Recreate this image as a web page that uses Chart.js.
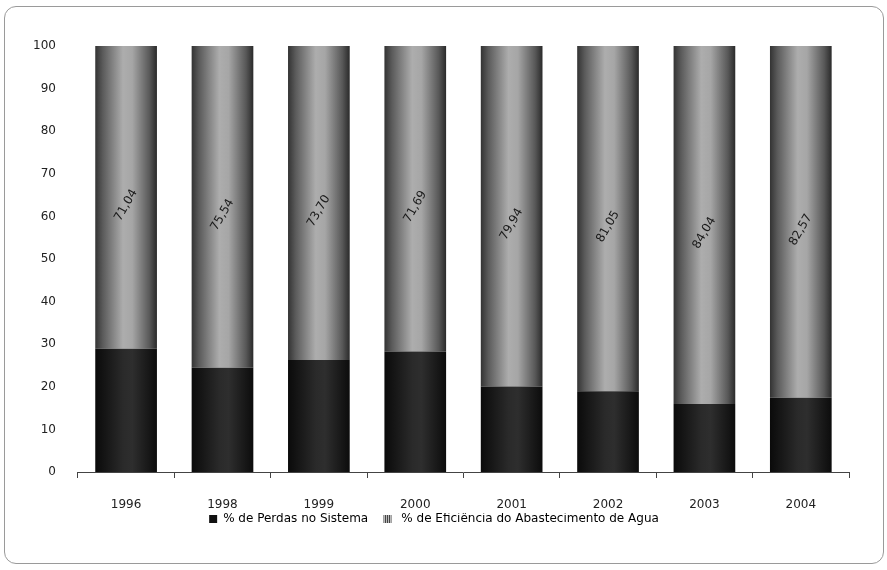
<!DOCTYPE html>
<html><head><meta charset="utf-8">
<script src="https://cdn.jsdelivr.net/npm/chart.js@4/dist/chart.umd.min.js"></script>
<style>
html,body{margin:0;padding:0;background:#fff;}
#box{position:absolute;left:4px;top:6px;width:878px;height:556px;border:1.5px solid #9a9a9a;border-radius:12px;overflow:hidden;}
canvas{display:block;}
</style></head>
<body>
<div id="box"><canvas id="c" width="878" height="556"></canvas></div>
<script>
const years = ['1996','1998','1999','2000','2001','2002','2003','2004'];
const perdas = [28.96, 24.46, 26.30, 28.31, 20.06, 18.95, 15.96, 17.43];
const eficiencia = [71.04, 75.54, 73.70, 71.69, 79.94, 81.05, 84.04, 82.57];
const eficienciaLabels = ['71,04','75,54','73,70','71,69','79,94','81,05','84,04','82,57'];
const yTicks = [0,10,20,30,40,50,60,70,80,90,100];
const BAR_PCT = 0.64;
const FONT = '"DejaVu Sans", "Liberation Sans", Arial, sans-serif';

function barGradient(ctx, dark){
  const chart = ctx.chart;
  const xs = chart.scales.x;
  if (!xs || !chart.chartArea) return dark ? '#1c1c1c' : '#8a8a8a';
  const cx = xs.getPixelForValue(ctx.dataIndex);
  const w = (xs.width / years.length) * BAR_PCT;
  const g = chart.ctx.createLinearGradient(cx - w/2, 0, cx + w/2, 0);
  if (dark){
    g.addColorStop(0, '#0a0a0a');
    g.addColorStop(0.45, '#2a2a2a');
    g.addColorStop(0.6, '#2e2e2e');
    g.addColorStop(1, '#0c0c0c');
  } else {
    g.addColorStop(0, '#333333');
    g.addColorStop(0.12, '#5a5a5a');
    g.addColorStop(0.45, '#adadad');
    g.addColorStop(0.6, '#a6a6a6');
    g.addColorStop(0.88, '#585858');
    g.addColorStop(1, '#2a2a2a');
  }
  return g;
}

const labelPlugin = {
  id: 'rotLabels',
  afterDatasetsDraw(chart){
    const meta = chart.getDatasetMeta(1);
    const c = chart.ctx;
    c.save();
    c.font = '12px ' + FONT;
    c.fillStyle = '#1a1a1a';
    c.textAlign = 'center';
    c.textBaseline = 'middle';
    meta.data.forEach((el, i) => {
      const yMid = (el.y + el.base) / 2 + 8;
      c.save();
      c.translate(el.x, yMid);
      c.rotate(-60 * Math.PI / 180);
      c.fillText(eficienciaLabels[i], 0, 0);
      c.restore();
    });
    c.restore();
  }
};

function hatchSquare(){
  const cv = document.createElement('canvas');
  cv.width = 4; cv.height = 4;
  const x = cv.getContext('2d');
  x.fillStyle = '#bbbbbb'; x.fillRect(0,0,4,4);
  x.fillStyle = '#444'; x.fillRect(0,0,1,4); x.fillRect(2,0,1,4);
  return x.createPattern(cv, 'repeat');
}

new Chart(document.getElementById('c'), {
  type: 'bar',
  data: {
    labels: years,
    datasets: [
      { label: '% de Perdas no Sistema', data: perdas,
        backgroundColor: ctx => barGradient(ctx, true),
        borderWidth: 0, barPercentage: BAR_PCT, categoryPercentage: 1 },
      { label: '% de Eficiência do Abastecimento de Água', data: eficiencia,
        backgroundColor: ctx => barGradient(ctx, false),
        borderWidth: 0, barPercentage: BAR_PCT, categoryPercentage: 1 }
    ]
  },
  options: {
    responsive: false,
    animation: false,
    layout: { padding: { left: 14, right: 34, top: 39, bottom: 28 } },
    plugins: {
      legend: {
        position: 'bottom',
        labels: {
          boxWidth: 8, boxHeight: 8, padding: 0,
          color: '#222',
          font: { family: FONT, size: 12 },
          generateLabels(chart){
            return [
              { text: '% de Perdas no Sistema    ', fillStyle: '#111', strokeStyle: '#111', lineWidth: 0, datasetIndex: 0 },
              { text: ' % de Eficiência do Abastecimento de Água', fillStyle: hatchSquare(), strokeStyle: '#555', lineWidth: 0, datasetIndex: 1 }
            ];
          }
        }
      },
      tooltip: { enabled: false }
    },
    scales: {
      x: {
        stacked: true,
        grid: { display: true, drawOnChartArea: false, offset: true, tickLength: 25, tickBorderDash: [5, 40], color: '#444' },
        border: { display: true, color: '#444', width: 1 },
        ticks: { color: '#222', padding: 2, font: { family: FONT, size: 12, lineHeight: 1 } }
      },
      y: {
        stacked: true,
        min: 0, max: 100,
        afterBuildTicks(axis){ axis.ticks = yTicks.map(v => ({ value: v })); },
        grid: { display: false },
        border: { display: false },
        ticks: { color: '#222', padding: 14, font: { family: FONT, size: 12 } }
      }
    }
  },
  plugins: [labelPlugin]
});
</script>
</body></html>
